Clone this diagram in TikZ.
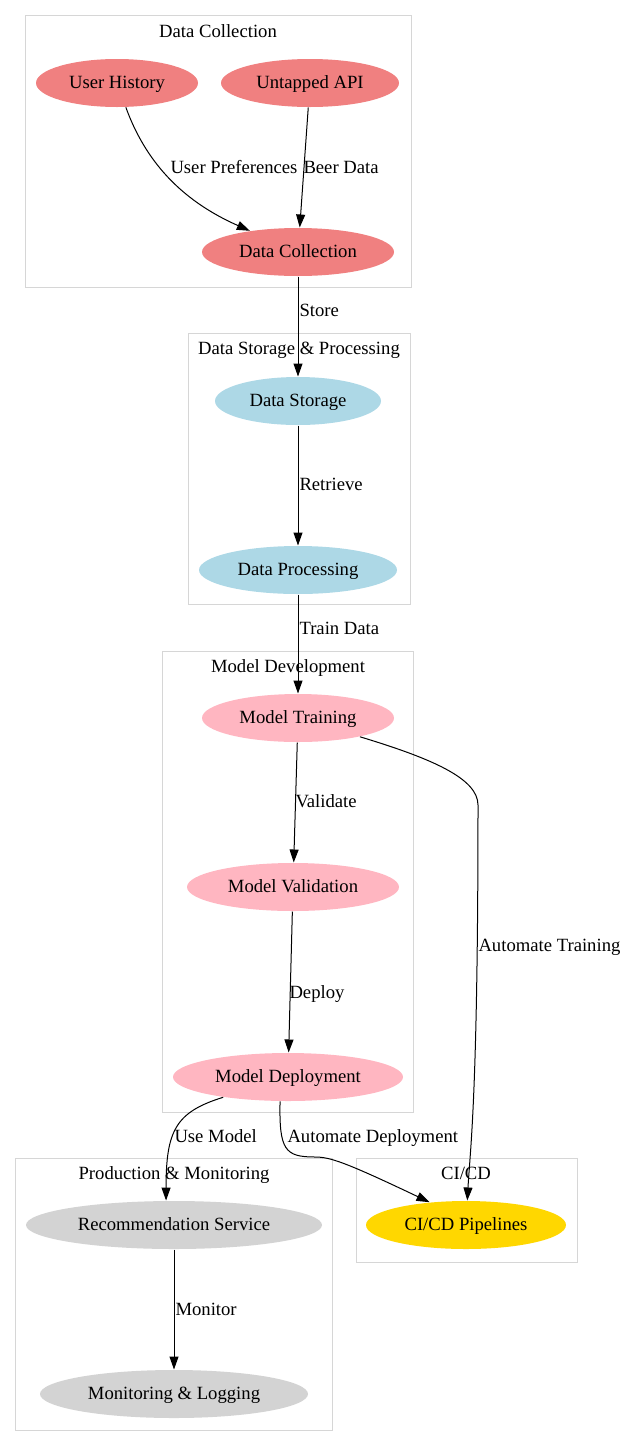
\documentclass[tikz,border=0pt]{standalone}
\usepackage{fontspec}
\setmainfont{Liberation Serif}
\usetikzlibrary{shapes.geometric,arrows.meta}
\tikzset{every picture/.style={line width=0.75pt}}
\definecolor{gvcoral}{RGB}{240,128,128}
\definecolor{gvblue}{RGB}{173,216,230}
\definecolor{gvpink}{RGB}{255,182,193}
\definecolor{gvgray}{RGB}{211,211,211}
\definecolor{gvgold}{RGB}{255,215,0}
\definecolor{boxgray}{RGB}{214,214,214}

\begin{document}
\begin{tikzpicture}[x=0.75pt,y=0.75pt,yscale=-1,xscale=1,
  every node/.style={font=\fontsize{14pt}{17pt}\selectfont, text height=11.6pt, text depth=3pt},
  state/.style={ellipse, minimum height=36pt, inner sep=0pt},
  cluster/.style={draw=boxgray, line width=0.75pt},
  lbl/.style={anchor=west, inner sep=0pt},
  flow/.style={-{Triangle[length=9.75pt,width=6.75pt]}}]
\useasboundingbox (0,0) rectangle (626,1446);

%Shape: Rectangle [clusters]
\draw [cluster] (25,15) rectangle (411,287);
\draw [cluster] (188,333) rectangle (410,604);
\draw [cluster] (162,651) rectangle (413,1112);
\draw [cluster] (15,1158) rectangle (332,1430);
\draw [cluster] (356,1158) rectangle (577,1262);

% Text Node
\node (cdc) at (218,32) {Data Collection};
\node (cdsp) at (299,349) {Data Storage \& Processing};
\node (cmd) at (288,667) {Model Development};
\node (cpm) at (174,1174) {Production \& Monitoring};
\node (cci) at (466,1174) {CI/CD};

%Shape: Ellipse
\node [state, fill=gvcoral, minimum width=121.5pt] (uh) at (117,83) {User History};
\node [state, fill=gvcoral, minimum width=133.5pt] (uapi) at (310,83) {Untapped API};
\node [state, fill=gvcoral, minimum width=144pt] (dc) at (298,252) {Data Collection};
\node [state, fill=gvblue, minimum width=124.5pt] (ds) at (298,401) {Data Storage};
\node [state, fill=gvblue, minimum width=148.5pt] (dp) at (298,570) {Data Processing};
\node [state, fill=gvpink, minimum width=144pt] (mt) at (298,718) {Model Training};
\node [state, fill=gvpink, minimum width=159pt] (mv) at (293,887) {Model Validation};
\node [state, fill=gvpink, minimum width=172.5pt] (md) at (288,1077) {Model Deployment};
\node [state, fill=gvgray, minimum width=222pt] (rs) at (174,1225) {Recommendation Service};
\node [state, fill=gvgray, minimum width=201pt] (ml) at (174,1394) {Monitoring \& Logging};
\node [state, fill=gvgold, minimum width=150pt] (ci) at (466,1225) {CI/CD Pipelines};

%Curve Lines
\draw [flow] (uh) .. controls (145,160) and (180,200) .. (dc);
%Straight Lines
\draw [flow] (uapi) -- (dc);
\draw [flow] (dc) -- (ds);
\draw [flow] (ds) -- (dp);
\draw [flow] (dp) -- (mt);
\draw [flow] (mt) -- (mv);
\draw [flow] (mv) -- (md);
\draw [flow] (rs) -- (ml);
%Curve Lines
\draw [flow] (mt) .. controls (430,758) and (478,778) .. (478,805) .. controls (478,1100) and (470,1150) .. (ci);
\draw [flow] (md) .. controls (176,1112) and (166,1130) .. (rs.108);
\draw [flow] (md.252) .. controls (279,1150) and (285,1157) .. (315,1157) .. controls (330,1157) and (345,1162) .. (ci.148);

% Text Node
\node [lbl] (lup) at (170,168) {User Preferences};
\node [lbl] (lbd) at (303,168) {Beer Data};
\node [lbl] (lst) at (299,311) {Store};
\node [lbl] (lre) at (299,485) {Retrieve};
\node [lbl] (ltd) at (299,629) {Train Data};
\node [lbl] (lva) at (295,802) {Validate};
\node [lbl] (lde) at (289,993) {Deploy};
\node [lbl] (lat) at (478,946) {Automate Training};
\node [lbl] (lum) at (174,1137) {Use Model};
\node [lbl] (lad) at (287,1137) {Automate Deployment};
\node [lbl] (lmo) at (175,1310) {Monitor};

\end{tikzpicture}
\end{document}
